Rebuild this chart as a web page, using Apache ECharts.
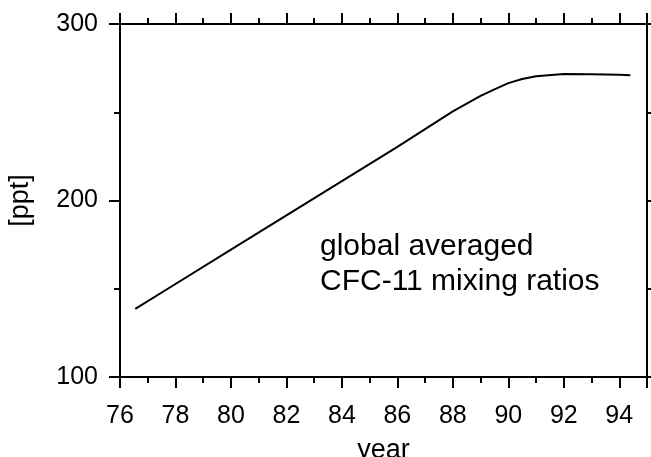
<!DOCTYPE html>
<html>
<head>
<meta charset="utf-8">
<script src="https://cdn.jsdelivr.net/npm/echarts@6/dist/echarts.min.js"></script>
<style>
  html, body { margin: 0; padding: 0; background: #fff; }
  #main { width: 651px; height: 457px; }
</style>
</head>
<body>
<div id="main"></div>
<script>
var myChart = echarts.init(document.getElementById('main'));

var years = [76.55, 78, 80, 82, 84, 86, 88, 89, 89.5, 90, 90.5, 91, 92, 93, 94, 94.4];
var cfc11 = [138.6, 152.7, 172.2, 191.6, 211, 230.4, 250.5, 259.3, 263, 266.5, 268.8, 270.4, 271.7, 271.5, 271.2, 271.0];
var xTicks = [76, 78, 80, 82, 84, 86, 88, 90, 92, 94];
var yTicks = [100, 200, 300];

var font = 'Liberation Sans, Arial, sans-serif';

var points = [];
for (var i = 0; i < years.length; i++) {
    points.push([years[i], cfc11[i]]);
}

function frameAxis(extra) {
    var ax = {
        type: 'value',
        axisLine: { show: true, onZero: false, lineStyle: { color: '#000', width: 2 } },
        axisTick: { show: true, inside: false, length: 11, lineStyle: { color: '#000', width: 2 } },
        minorTick: { show: true, splitNumber: 2, length: 6, lineStyle: { color: '#000', width: 2 } },
        splitLine: { show: false },
        minorSplitLine: { show: false }
    };
    for (var k in extra) ax[k] = extra[k];
    return ax;
}

var option = {
    animation: false,
    backgroundColor: '#fff',
    grid: { left: 120, right: 4, top: 24, bottom: 80, containLabel: false, outerBoundsMode: 'none' },
    xAxis: [
        frameAxis({
            position: 'bottom', min: 76, max: 95, interval: 2,
            name: 'year', nameLocation: 'middle', nameGap: 60,
            nameTextStyle: { fontFamily: font, fontSize: 27, color: '#000' },
            axisLabel: {
                margin: 27, fontFamily: font, fontSize: 25, color: '#000',
                formatter: function (v) { return xTicks.indexOf(v) >= 0 ? String(v) : ''; }
            }
        }),
        frameAxis({ position: 'top', min: 76, max: 95, interval: 2, axisLabel: { show: false } })
    ],
    yAxis: [
        frameAxis({
            position: 'left', min: 100, max: 300, interval: 100,
            name: '[ppt]', nameLocation: 'middle', nameGap: 86,
            nameTextStyle: { fontFamily: font, fontSize: 27, color: '#000' },
            axisLabel: {
                margin: 22, fontFamily: font, fontSize: 25, color: '#000',
                formatter: function (v) { return yTicks.indexOf(v) >= 0 ? String(v) : ''; }
            }
        }),
        frameAxis({ position: 'right', min: 100, max: 300, interval: 100, axisLabel: { show: false } })
    ],
    graphic: [{
        type: 'text',
        left: 320,
        top: 229,
        style: {
            text: 'global averaged\nCFC-11 mixing ratios',
            font: '30px ' + font,
            lineHeight: 35,
            fill: '#000'
        }
    }],
    series: [{
        name: 'CFC-11',
        type: 'line',
        data: points,
        showSymbol: false,
        lineStyle: { color: '#000', width: 2 }
    }]
};

myChart.setOption(option);
</script>
</body>
</html>
